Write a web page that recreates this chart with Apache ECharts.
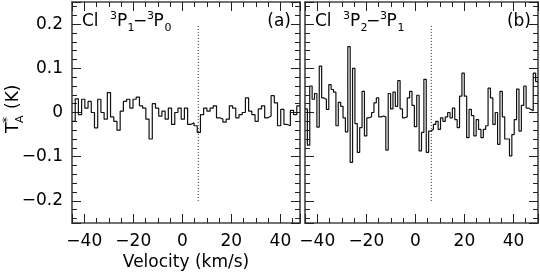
<!DOCTYPE html>
<html><head><meta charset="utf-8">
<script src="https://cdn.jsdelivr.net/npm/echarts@6/dist/echarts.min.js"></script>
<style>html,body{margin:0;padding:0;background:#fff}#c{width:540px;height:274px}</style>
</head><body><div id="c"></div>
<script>
// ---- data ----
const velLeftRange = [-45, 48];
const velRightRange = [-45, 50];
const taRange = [-0.25, 0.25];
const xMajor = 20, yMajor = 0.1;
const vlsr = 6.5;               // dotted reference velocity (km/s)
const vlsrSpan = [-0.2, 0.2];   // extent of dotted line (K)

// Cl 3P1-3P0 channel values (K), from -45 km/s upward
const taLeft = [-0.02,0.031,-0.005,0.03,0.01,0.025,0.0,-0.035,0.03,0.0,-0.015,0.045,-0.01,-0.02,-0.04,0.003,0.025,0.03,0.01,0.03,0.035,0.015,0.01,-0.015,-0.06,0.02,0.01,-0.008,0.003,-0.015,0.01,-0.027,0.0,0.01,-0.015,0.01,-0.027,-0.023,-0.03,-0.045,-0.005,0.01,0.003,0.01,0.015,-0.012,-0.015,-0.022,-0.015,0.015,0.01,-0.012,-0.005,0.0,0.033,0.003,-0.005,-0.02,0.008,0.015,-0.012,-0.008,0.038,0.022,-0.03,0.007,-0.027,-0.03,0.005,-0.005,0.015];
// Cl 3P2-3P1 channel values (K)
const taRight = [0.008,-0.074,0.06,0.03,0.043,-0.033,0.105,0.033,0.03,0.007,0.063,0.052,0.046,-0.03,0.023,0.014,-0.012,-0.044,0.149,-0.113,0.1,-0.025,-0.09,-0.034,0.048,-0.053,-0.012,-0.01,0.0,0.022,0.033,-0.01,-0.008,-0.01,-0.085,0.043,0.008,0.046,0.014,0.072,0.008,-0.012,-0.01,0.033,0.048,0.016,-0.032,0.039,-0.087,-0.045,0.075,-0.09,-0.042,-0.038,-0.027,-0.02,-0.038,-0.012,-0.02,-0.01,0.0,-0.012,0.01,-0.016,-0.034,0.037,0.089,0.037,-0.057,0.007,-0.007,-0.053,-0.016,-0.038,-0.057,-0.038,-0.03,0.055,0.033,-0.027,0.0,-0.072,0.048,-0.01,-0.06,-0.06,-0.098,-0.05,-0.016,0.053,-0.042,0.016,0.06,0.01,0.007,0.004,0.089,0.07];

const panelTags = ['(a)', '(b)'];
const transLeft = {sup1:'3', lo:'1', sup2:'3', hi:'0'};
const transRight = {sup1:'3', lo:'2', sup2:'3', hi:'1'};

// ---- build ----
const FONT = 'DejaVu Sans';
const grids = [
  {left: 72, top: 2, width: 228, height: 221},
  {left: 305, top: 2, width: 233, height: 221}
];
function stepData(vals, range) {
  const dv = (range[1] - range[0]) / vals.length;
  const d = vals.map((v, i) => [range[0] + i * dv, v]);
  d.push([range[1], vals[vals.length - 1]]);
  return d;
}
function fmt(step) {
  return function (v) {
    const r = Math.round(v / step);
    if (Math.abs(v - r * step) > step * 1e-3) return '';
    const s = parseFloat((r * step).toFixed(3));
    return s === 0 ? '0' : String(s).replace('-', '\u2212');
  };
}
const lineC = '#444';
function xAx(g, range, pos, lab) {
  return {
    type: 'value', gridIndex: g, position: pos, min: range[0], max: range[1],
    minInterval: xMajor, maxInterval: xMajor,
    axisLine: {show: true, onZero: false, lineStyle: {color: lineC, width: 1.6}},
    axisTick: {show: true, inside: true, length: 9, lineStyle: {color: '#222', width: 1}},
    minorTick: {show: true, splitNumber: 4, length: 5, lineStyle: {color: '#222', width: 1}},
    splitLine: {show: false}, minorSplitLine: {show: false},
    axisLabel: {show: lab, showMinLabel: false, showMaxLabel: false, formatter: fmt(xMajor),
      margin: 10, fontFamily: FONT, fontSize: 17, color: '#000'}
  };
}
function yAx(g, pos, lab) {
  return {
    type: 'value', gridIndex: g, position: pos, min: taRange[0], max: taRange[1],
    minInterval: yMajor, maxInterval: yMajor,
    axisLine: {show: true, onZero: false, lineStyle: {color: lineC, width: 1.6}},
    axisTick: {show: true, inside: true, length: 9, lineStyle: {color: '#222', width: 1}},
    minorTick: {show: true, splitNumber: 5, length: 5, lineStyle: {color: '#222', width: 1}},
    splitLine: {show: false}, minorSplitLine: {show: false},
    axisLabel: {show: lab, showMinLabel: false, showMaxLabel: false, formatter: fmt(yMajor),
      margin: 9, fontFamily: FONT, fontSize: 17, color: '#000'}
  };
}
function spec(idx, data) {
  return {type: 'line', xAxisIndex: idx * 2, yAxisIndex: idx * 2, data: data, step: 'end',
    symbol: 'none', silent: true, lineStyle: {color: '#111', width: 1.2}, z: 3};
}
function dotted(idx) {
  return {type: 'line', xAxisIndex: idx * 2, yAxisIndex: idx * 2,
    data: [[vlsr, vlsrSpan[0]], [vlsr, vlsrSpan[1]]], symbol: 'none', silent: true,
    lineStyle: {color: '#222', width: 1, type: [1, 2]}, z: 2};
}
function title(left, t, tag, right) {
  const y = 22, ts = {fontFamily: FONT, fill: '#000'};
  const el = (x, yy, text, size, align) => ({type: 'text', x: left + x, y: yy,
    style: Object.assign({text: text, fontSize: size, verticalAlign: 'middle', align: align || 'left'}, ts)});
  return [
    el(10, y, 'Cl', 17),
    el(38, y - 6, t.sup1, 11),
    el(45, y, 'P', 17),
    el(55.5, y + 6, t.lo, 11),
    el(61, y, '\u2212', 17),
    el(75, y - 6, t.sup2, 11),
    el(81.5, y, 'P', 17),
    el(92.5, y + 6, t.hi, 11),
    {type: 'text', x: right, y: y, style: Object.assign({text: tag, fontSize: 17, verticalAlign: 'middle', align: 'right'}, ts)}
  ];
}
const gfx = [].concat(
  title(grids[0].left, transLeft, panelTags[0], 291),
  title(grids[1].left, transRight, panelTags[1], 531),
  [
    {type: 'text', x: 186, y: 263, style: {text: 'Velocity (km/s)', fontFamily: FONT, fontSize: 17, fill: '#000', align: 'center', verticalAlign: 'middle'}},
    {type: 'group', x: 14, y: 108, rotation: Math.PI / 2, children: [
      {type: 'text', x: -25, y: 0, style: {text: 'T', fontFamily: FONT, fontSize: 17, fill: '#000', verticalAlign: 'middle'}},
      {type: 'text', x: -15, y: -6, style: {text: '*', fontFamily: FONT, fontSize: 12, fill: '#000', verticalAlign: 'middle'}},
      {type: 'text', x: -15, y: 6, style: {text: 'A', fontFamily: FONT, fontSize: 11, fill: '#000', verticalAlign: 'middle'}},
      {type: 'text', x: -1, y: 0, style: {text: '(K)', fontFamily: FONT, fontSize: 17, fill: '#000', verticalAlign: 'middle'}}
    ]}
  ]
);
const chart = echarts.init(document.getElementById('c'), null, {renderer: 'canvas'});
chart.setOption({
  animation: false,
  backgroundColor: '#fff',
  grid: grids,
  xAxis: [xAx(0, velLeftRange, 'bottom', true), xAx(0, velLeftRange, 'top', false),
          xAx(1, velRightRange, 'bottom', true), xAx(1, velRightRange, 'top', false)],
  yAxis: [yAx(0, 'left', true), yAx(0, 'right', false), yAx(1, 'left', false), yAx(1, 'right', false)],
  series: [spec(0, stepData(taLeft, velLeftRange)), dotted(0),
           spec(1, stepData(taRight, velRightRange)), dotted(1)],
  graphic: gfx
});
</script></body></html>
